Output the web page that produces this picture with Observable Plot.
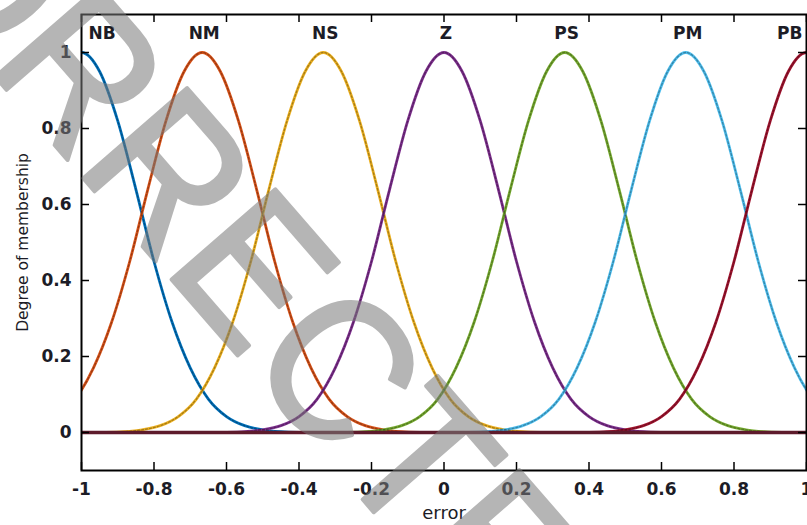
<!DOCTYPE html>
<html><head><meta charset="utf-8">
<script src="https://cdn.jsdelivr.net/npm/d3@7"></script>
<script src="https://cdn.jsdelivr.net/npm/@observablehq/plot@0.6"></script>
<style>
html,body{margin:0;padding:0;background:#fff;}
#wrap{position:relative;width:807px;height:525px;overflow:hidden;}
#wm{position:absolute;left:0;top:0;pointer-events:none;}
</style></head><body>
<div id="wrap"><div id="chart"></div><svg id="wm" width="807" height="525"></svg></div>
<script>
// Fuzzy sets (names, centres, colours)
const setNames = ["NB", "NM", "NS", "Z", "PS", "PM", "PB"];
const setCenters = [-1, -0.667, -0.333, 0, 0.333, 0.667, 1];
const setColors = ["#0072bd", "#d95319", "#edb120", "#7e2f8e", "#77ac30", "#4dbeee", "#a2142f"];
// Membership profile (distance from centre -> degree)
const profileOffsets = [0, 0.05, 0.1, 0.15, 0.2, 0.25, 0.3, 0.35, 0.4, 0.45, 0.5, 0.55, 0.6];
const profileValues  = [1, 0.95, 0.82, 0.64, 0.45, 0.29, 0.17, 0.088, 0.042, 0.018, 0.007, 0.002, 0];
const xTicks = [-1, -0.8, -0.6, -0.4, -0.2, 0, 0.2, 0.4, 0.6, 0.8, 1];
const yTicks = [0, 0.2, 0.4, 0.6, 0.8, 1];
const labelLevel = 1.05;
const xLabel = "error";
const yLabel = "Degree of membership";
const watermarkText = "UNCORRECTED PROOF";

const rows = [];
setNames.forEach((name, i) => {
  const pts = [];
  for (let k = profileOffsets.length - 1; k > 0; k--) pts.push([-profileOffsets[k], profileValues[k]]);
  for (let k = 0; k < profileOffsets.length; k++) pts.push([profileOffsets[k], profileValues[k]]);
  pts.forEach(([o, v]) => rows.push({name, x: setCenters[i] + o, y: v}));
});
const labels = setNames.map((name, i) => ({name, x: setCenters[i], y: labelLevel}));

const W = 807, H = 525, mL = 81, mR = 1, mT = 14, mB = 55;
const innerW = W - mL - mR, innerH = H - mT - mB, tk = 8;
const ink = "#1c1c26";

const chart = Plot.plot({
  width: W, height: H,
  marginLeft: mL, marginRight: mR, marginTop: mT, marginBottom: mB,
  style: {fontFamily: "'DejaVu Sans', sans-serif", background: "#fff", color: ink},
  x: {domain: [-1, 1]},
  y: {domain: [-0.1, 1.1]},
  color: {domain: setNames, range: setColors},
  marks: [
    Plot.line(rows, {x: "x", y: "y", z: "name", stroke: "name", strokeWidth: 2.8, curve: "monotone-x", clip: true}),
    Plot.line(rows, {x: "x", y: "y", z: "name", stroke: "#000", strokeOpacity: 0.3, strokeWidth: 1.3, strokeDasharray: "2,2", curve: "monotone-x", clip: true}),
    Plot.ruleY([0], {stroke: "#5e1b2c", strokeWidth: 3.5}),
    Plot.frame({stroke: "#000", strokeWidth: 2}),
    Plot.tickX(xTicks, {x: d => d, insetTop: innerH - tk, stroke: "#000", strokeWidth: 1.5}),
    Plot.tickX(xTicks, {x: d => d, insetBottom: innerH - tk, stroke: "#000", strokeWidth: 1.5}),
    Plot.tickY(yTicks, {y: d => d, insetRight: innerW - tk, stroke: "#000", strokeWidth: 1.5}),
    Plot.tickY(yTicks, {y: d => d, insetLeft: innerW - tk, stroke: "#000", strokeWidth: 1.5}),
    Plot.axisX(xTicks, {tickSize: 0, tickPadding: 12, fontSize: 17, fontWeight: "bold", tickFormat: d => String(d), label: null, fill: ink}),
    Plot.axisY(yTicks, {tickSize: 0, tickPadding: 10, fontSize: 17, fontWeight: "bold", tickFormat: d => String(d), label: null, fill: ink}),
    Plot.text(labels.slice(0, 1), {x: "x", y: "y", text: "name", textAnchor: "start", dx: 7, fontSize: 17, fontWeight: "bold", fill: ink}),
    Plot.text(labels.slice(1, -1), {x: "x", y: "y", text: "name", dx: 2, fontSize: 17, fontWeight: "bold", fill: ink}),
    Plot.text(labels.slice(-1), {x: "x", y: "y", text: "name", textAnchor: "end", dx: -4, fontSize: 17, fontWeight: "bold", fill: ink}),
    Plot.text([xLabel], {text: d => d, frameAnchor: "bottom", textAnchor: "middle", lineAnchor: "middle", dy: 43, fontSize: 18, fill: ink}),
    Plot.text([yLabel], {text: d => d, frameAnchor: "left", textAnchor: "middle", lineAnchor: "middle", dx: -58, rotate: -90, fontSize: 15.5, fill: ink})
  ]
});
document.getElementById("chart").appendChild(chart);

// Watermark overlay
const wm = d3.select("#wm").append("g").attr("opacity", 0.55);
wm.append("text")
  .attr("transform", "translate(-374,-348) rotate(49) scale(0.93,1)")
  .attr("font-family", "'Liberation Sans', Arial, sans-serif")
  .attr("font-size", 200)
  .attr("fill", "#7a7a7a")
  .attr("stroke", "#7a7a7a")
  .attr("stroke-width", 4)
  .attr("stroke-linejoin", "round")
  .text(watermarkText);
</script>
</body></html>
